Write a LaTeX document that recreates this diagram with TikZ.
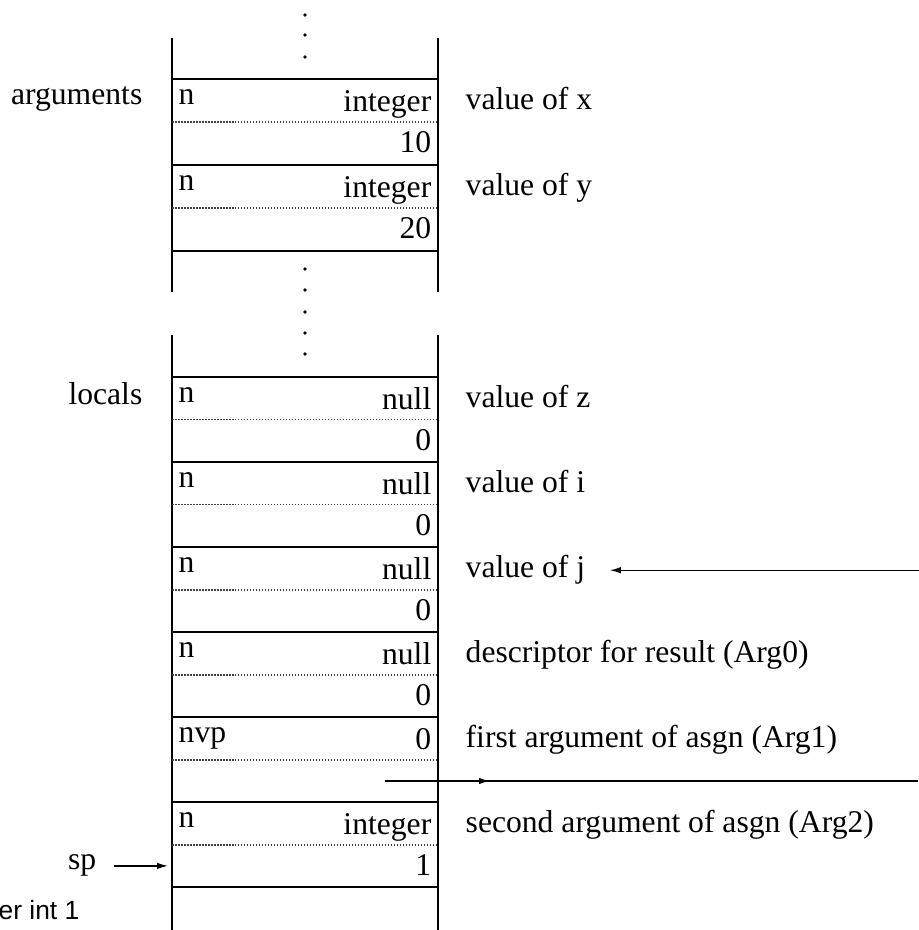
\documentclass[tikz,border=0pt]{standalone}
\usepackage{fontspec}
\setmainfont{Liberation Serif}
\newfontfamily\cutsans{Liberation Sans}
\usetikzlibrary{arrows.meta, positioning, calc}

\begin{document}
\begin{tikzpicture}[
  font=\fontsize{9}{11}\selectfont,
  >={Latex[length=1.1mm,width=0.65mm]},
  txt/.style={inner sep=0pt},
  lft/.style={txt, anchor=base west},
  rgt/.style={txt, anchor=base east},
  sep/.style={line width=0.6pt},
  half/.style={black!75, line width=0.35pt, dash pattern=on 0.15mm off 0.15mm},
  col/.style={line width=0.4pt},
  ptr/.style={->, line width=0.4pt}
]
\useasboundingbox (0,0) rectangle (9.18,9.30);

% Column sides (broken where the dots are)
\draw[col] (1.72,8.92) -- (1.72,6.38);
\draw[col] (4.38,8.92) -- (4.38,6.38);
\draw[col] (1.72,5.95) -- (1.72,0);
\draw[col] (4.38,5.95) -- (4.38,0);
\coordinate (colL) at (1.72,0);

% Dots above the arguments
\fill (3.05,9.15) circle (0.018);
\fill (3.05,8.95) circle (0.018);
\fill (3.05,8.73) circle (0.018);

% Dots between arguments and locals
\fill (3.05,6.61) circle (0.018);
\fill (3.05,6.40) circle (0.018);
\fill (3.05,6.18) circle (0.018);
\fill (3.05,5.97) circle (0.018);
\fill (3.05,5.76) circle (0.018);

% Solid lines between descriptors
\draw[sep] (1.72,8.51) -- (4.38,8.51);
\draw[sep] (1.72,7.65) -- (4.38,7.65);
\draw[sep] (1.72,6.79) -- (4.38,6.79);
\draw[sep] (1.72,5.53) -- (4.38,5.53);
\draw[sep] (1.72,4.68) -- (4.38,4.68);
\draw[sep] (1.72,3.83) -- (4.38,3.83);
\draw[sep] (1.72,2.98) -- (4.38,2.98);
\draw[sep] (1.72,2.13) -- (4.38,2.13);
\draw[sep] (1.72,1.28) -- (4.38,1.28);
\draw[sep] (1.72,0.43) -- (4.38,0.43);

% Dotted lines inside descriptors
\draw[half] (1.72,8.08) -- (4.38,8.08);
\draw[half] (1.72,7.22) -- (4.38,7.22);
\draw[half] (1.72,5.105) -- (4.38,5.105);
\draw[half] (1.72,4.255) -- (4.38,4.255);
\draw[half] (1.72,3.40) -- (4.38,3.40);
\draw[half] (1.72,2.55) -- (4.38,2.55);
\draw[half] (1.72,1.70) -- (4.38,1.70);
\draw[half] (1.72,0.85) -- (4.38,0.85);

% Block labels
\node[rgt] (args) at (1.43,8.25) {arguments};
\node[rgt] (locs) at (1.43,5.25) {locals};

% Argument x
\node[lft] (f1) at (1.78,8.25) {n};
\node[rgt] (t1) at (4.32,8.18) {integer};
\node[rgt] (v1) at (4.32,7.77) {10};
\node[lft] (d1) at (4.65,8.20) {value of x};

% Argument y
\node[lft] (f2) at (1.78,7.39) {n};
\node[rgt] (t2) at (4.32,7.32) {integer};
\node[rgt] (v2) at (4.32,6.91) {20};
\node[lft] (d2) at (4.65,7.34) {value of y};

% Local z
\node[lft] (f3) at (1.78,5.27) {n};
\node[rgt] (t3) at (4.32,5.20) {null};
\node[rgt] (v3) at (4.32,4.79) {0};
\node[lft] (d3) at (4.65,5.22) {value of z};

% Local i
\node[lft] (f4) at (1.78,4.42) {n};
\node[rgt] (t4) at (4.32,4.35) {null};
\node[rgt] (v4) at (4.32,3.94) {0};
\node[lft] (d4) at (4.65,4.37) {value of i};

% Local j
\node[lft] (f5) at (1.78,3.57) {n};
\node[rgt] (t5) at (4.32,3.50) {null};
\node[rgt] (v5) at (4.32,3.09) {0};
\node[lft] (d5) at (4.65,3.52) {value of j};

% Result (Arg0)
\node[lft] (f6) at (1.78,2.72) {n};
\node[rgt] (t6) at (4.32,2.65) {null};
\node[rgt] (v6) at (4.32,2.24) {0};
\node[lft] (d6) at (4.65,2.67) {descriptor for result (Arg0)};

% Arg1 (variable)
\node[lft] (f7) at (1.78,1.87) {nvp};
\node[rgt] (t7) at (4.32,1.80) {0};
\node[lft] (d7) at (4.65,1.82) {first argument of asgn (Arg1)};

% Arg2
\node[lft] (f8) at (1.78,1.02) {n};
\node[rgt] (t8) at (4.32,0.95) {integer};
\node[rgt] (v8) at (4.32,0.54) {1};
\node[lft] (d8) at (4.65,0.97) {second argument of asgn (Arg2)};

% Stack pointer
\node[rgt] (sp) at (0.97,0.60) {sp};
\draw[ptr, shorten <=0.17cm, shorten >=0.04cm] (sp.east) -- (sp.east -| colL);

% Pointer into value of j
\coordinate (jsrc) at ($(d5.east)+(3.34,0)$);
\draw[ptr, shorten >=0.24cm] (jsrc) -- (d5.east);

% Pointer out of the nvp descriptor
\coordinate (nvpsrc) at (3.85,1.49);
\coordinate (nvpmid) at (4.90,1.49);
\coordinate (nvpdst) at (9.18,1.49);
\draw[col] (nvpsrc) -- (nvpdst);
\draw[ptr] (nvpsrc) -- (nvpmid);

% Cut-off text at the lower left
\node[rgt, font=\cutsans\fontsize{7.5}{9}\selectfont] (cut) at (0.80,0.10) {er int 1};

\end{tikzpicture}
\end{document}
